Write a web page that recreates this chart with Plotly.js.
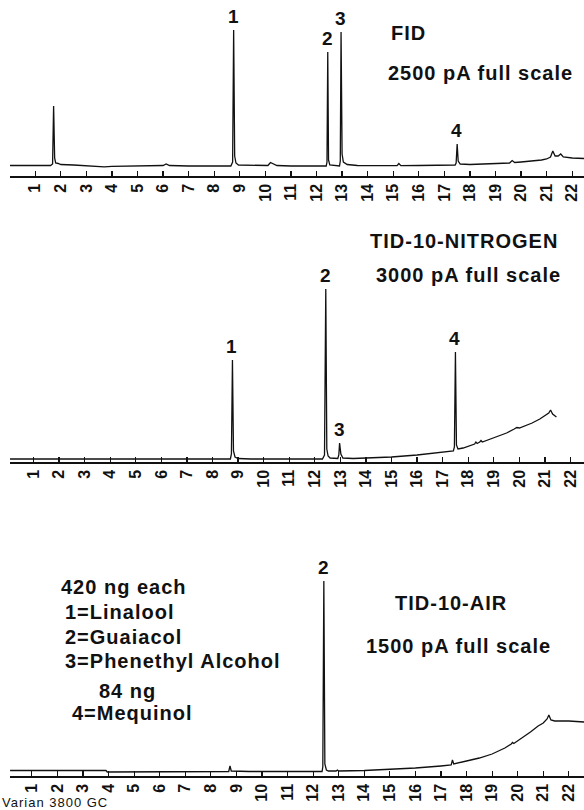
<!DOCTYPE html>
<html>
<head>
<meta charset="utf-8">
<script src="https://cdn.plot.ly/plotly-3.0.1.min.js"></script>
<style>
html,body{margin:0;padding:0;background:#fff;}
#chart{width:584px;height:810px;}
.annotation-text{letter-spacing:1px;}
</style>
</head>
<body>
<div id="chart"></div>
<script>
// ---- Data (retention time in minutes, detector response in relative units) ----
const fidTime = [0.0,1.6,1.68,1.72,1.76,1.8,1.9,2.0,2.5,3.0,3.5,3.7,4.0,4.5,5.0,5.5,6.0,6.12,6.25,7.0,8.0,8.65,8.72,8.76,8.8,8.85,8.95,9.5,10.1,10.2,10.3,10.45,11.0,12.0,12.38,12.41,12.44,12.47,12.52,12.9,12.93,12.96,13.0,13.05,13.2,13.6,14.5,15.15,15.22,15.3,16.0,17.0,17.42,17.46,17.5,17.54,17.62,18.0,18.5,19.0,19.55,19.65,19.75,20.0,20.5,20.8,21.0,21.15,21.24,21.33,21.45,21.55,21.65,21.8,22.0,22.46];
const fidSignal = [0.5,0.5,2,60,8,3,2.5,1.5,1,0.5,0,-0.8,-0.3,0,0.5,0.3,0.5,2,0.5,0,0,0,4,136,10,3,1,0.5,0.5,3.5,2.5,0.5,0,0,0,4,114,6,1,0,5,134,12,4,1.5,0.5,0,0.3,2.5,0.3,0.5,1,1,3,22,5,2,1.5,2,2.5,3,5.5,3.5,4,5,6,7,9,15,10,10,12,9,8.5,8,7.5];

const n2Time = [0.0,2.0,4.0,6.0,8.0,8.7,8.74,8.78,8.82,8.88,9.0,9.5,11.0,12.3,12.38,12.43,12.47,12.52,12.6,12.9,12.94,12.97,13.02,13.1,13.5,14.0,15.0,16.0,17.0,17.42,17.46,17.5,17.54,17.6,17.8,18.0,18.25,18.3,18.35,18.45,18.5,18.55,19.0,19.5,19.8,19.9,20.0,20.5,20.8,21.0,21.15,21.22,21.3,21.45];
const n2Signal = [0,0,0,0,0,0,5,99,8,2,0.5,0,0,0,4,170,10,3,1,0.5,4,16,5,1,0.5,1,2,4,6.5,8,12,107,14,10,11,13,15,17,15.5,17,18.5,17,21,26,30,31.5,31,36,40,43,46,49,45,42];

const airTime = [0.15,1.0,2.0,3.0,3.9,3.95,5.0,6.0,7.0,8.0,8.7,8.75,8.8,9.5,10.5,11.5,12.35,12.38,12.42,12.46,12.52,12.6,12.9,12.95,13.0,14.0,15.0,16.0,17.0,17.4,17.45,17.5,18.0,18.5,19.0,19.5,19.75,19.8,19.85,20.0,20.5,20.8,21.0,21.15,21.22,21.3,21.45,21.7,22.0,22.6];
const airSignal = [1.5,1.5,1.5,2,1.5,0,0,0.5,0.5,0.5,0.5,6,1,0.5,0.5,0.5,0.5,5,191,8,2,1,1,2,1,1.5,2.5,4,6,7,12,8,11,14,18,24,28,29.5,28.5,31,40,46,49,53,57,52,51,51,51,50];

// Peak identification
const fidPeakLabels = ["1","2","3","4"];
const fidPeakTimes = [8.76,12.44,12.96,17.5];
const n2PeakLabels = ["1","2","3","4"];
const n2PeakTimes = [8.78,12.43,12.97,17.5];
const airPeakLabels = ["2"];
const airPeakTimes = [12.42];

// Tick labels (minutes)
const tickValues = [1,2,3,4,5,6,7,8,9,10,11,12,13,14,15,16,17,18,19,20,21,22];
const tickLabels = tickValues.map(String);

// Panel texts
const detectorNames = ["FID","TID-10-NITROGEN","TID-10-AIR"];
const fullScales = ["2500 pA full scale","3000 pA full scale","1500 pA full scale"];
const sampleNotes = ["420 ng each","1=Linalool","2=Guaiacol","3=Phenethyl Alcohol","84 ng","4=Mequinol"];
const instrumentNote = "Varian 3800 GC";

// ---- Drawing ----
const W = 584, H = 810;
const px = v => v / W;
const py = v => (H - v) / H;
const FONT = "Liberation Sans, Arial, sans-serif";

const lineStyle = {color:"#111", width:1.3};
const traces = [
  {x:fidTime, y:fidSignal, xaxis:"x", yaxis:"y", type:"scatter", mode:"lines", line:lineStyle, hoverinfo:"skip"},
  {x:n2Time, y:n2Signal, xaxis:"x2", yaxis:"y2", type:"scatter", mode:"lines", line:lineStyle, hoverinfo:"skip"},
  {x:airTime, y:airSignal, xaxis:"x3", yaxis:"y3", type:"scatter", mode:"lines", line:lineStyle, hoverinfo:"skip"}
];

function xAxis(range, anchor){
  return {
    domain:[px(10),1], range:range, anchor:anchor,
    showgrid:false, zeroline:false,
    showline:true, linecolor:"#111", linewidth:1.5,
    ticks:"inside", ticklen:5, tickwidth:1.2, tickcolor:"#111",
    tickvals:tickValues, ticktext:tickLabels, tickangle:-90,
    tickfont:{family:FONT, size:16, color:"#111", weight:"bold"},
    fixedrange:true
  };
}
function yAxis(domain, range, anchor){
  return {domain:domain, range:range, anchor:anchor, visible:false, showgrid:false, zeroline:false, fixedrange:true};
}

const annotations = [];
function peakLabels(labels, times, tArr, sArr, xr, yr){
  labels.forEach((lab,i)=>{
    const idx = tArr.indexOf(times[i]);
    annotations.push({xref:xr, yref:yr, x:times[i], y:sArr[idx], text:lab, showarrow:false,
      xanchor:"center", yanchor:"bottom", yshift:1,
      font:{family:FONT, size:19, color:"#111", weight:"bold"}});
  });
}
peakLabels(fidPeakLabels, fidPeakTimes, fidTime, fidSignal, "x", "y");
peakLabels(n2PeakLabels, n2PeakTimes, n2Time, n2Signal, "x2", "y2");
peakLabels(airPeakLabels, airPeakTimes, airTime, airSignal, "x3", "y3");

function paperText(text, x, y, xanchor, size, bold){
  annotations.push({xref:"paper", yref:"paper", x:px(x), y:py(y), text:text, showarrow:false,
    xanchor:xanchor, yanchor:"middle",
    font:{family:FONT, size:size, color:"#111", weight:bold?"bold":"normal"}});
}
paperText(detectorNames[0], 408, 33, "center", 20, true);
paperText(fullScales[0], 480, 73, "center", 20, true);
paperText(detectorNames[1], 464, 241, "center", 20, true);
paperText(fullScales[1], 468, 275, "center", 20, true);
paperText(detectorNames[2], 451, 603, "center", 20, true);
paperText(fullScales[2], 458, 646, "center", 20, true);
paperText(sampleNotes[0], 124, 587, "center", 20, true);
paperText(sampleNotes[1], 63, 612, "left", 20, true);
paperText(sampleNotes[2], 63, 637, "left", 20, true);
paperText(sampleNotes[3], 63, 661, "left", 20, true);
paperText(sampleNotes[4], 127, 691, "center", 20, true);
paperText(sampleNotes[5], 70, 713, "left", 20, true);
paperText(instrumentNote, 0, 802, "left", 13, false);

const layout = {
  width:W, height:H, margin:{l:0,r:0,t:0,b:0},
  paper_bgcolor:"#fff", plot_bgcolor:"rgba(0,0,0,0)",
  showlegend:false,
  xaxis: xAxis([0.0145, 22.46], "y"),
  yaxis: yAxis([py(176), py(15)], [-10, 151], "x"),
  xaxis2: xAxis([0.081, 22.528], "y2"),
  yaxis2: yAxis([py(462), py(282)], [-3, 177], "x2"),
  xaxis3: xAxis([0.147, 22.594], "y3"),
  yaxis3: yAxis([py(776), py(575)], [-4, 197], "x3"),
  annotations: annotations
};

Plotly.newPlot("chart", traces, layout, {staticPlot:true, displayModeBar:false});
</script>
</body>
</html>
